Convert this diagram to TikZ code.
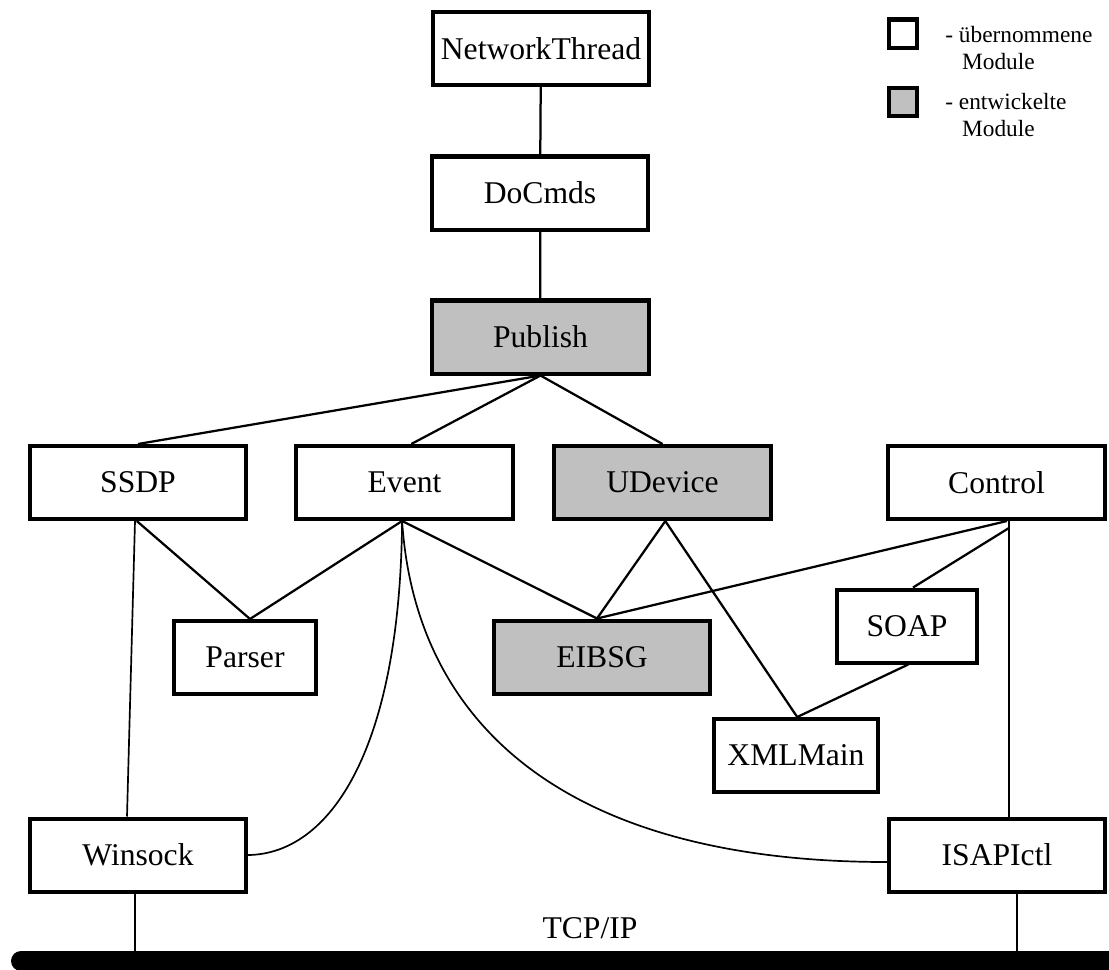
\documentclass[tikz,border=0pt]{standalone}
\usepackage{fontspec}
\setmainfont{Liberation Serif}
\usepackage{tikz}
\usetikzlibrary{calc}
\definecolor{modgray}{RGB}{192,192,192}

\begin{document}
\begin{tikzpicture}[x=0.025cm, y=-0.025cm,
    modul/.style={draw, line width=2.85pt, minimum width=5.4cm, minimum height=1.825cm,
        inner sep=0pt, font=\fontsize{22.5}{27}\selectfont},
    neu/.style={modul, fill=modgray},
    link/.style={line width=1.6pt},
    thin link/.style={line width=1.2pt}]
    \useasboundingbox (0,0) rectangle (1109,969);
    % Module
    \node[modul] (net) at (541,48.5) {NetworkThread};
    \node[modul] (doc) at (540,193) {DoCmds};
    \node[neu] (pub) at (540.5,337) {Publish};
    \node[modul] (ssdp) at (138,482.5) {SSDP};
    \node[modul] (event) at (404.5,482.5) {Event};
    \node[neu] (udev) at (662.5,482.5) {UDevice};
    \node[modul] (ctrl) at (996.5,482.5) {Control};
    \node[modul, minimum width=3.55cm] (parser) at (245,657.5) {Parser};
    \node[neu] (eibsg) at (602,657) {EIBSG};
    \node[modul, minimum width=3.5cm] (soap) at (907,626) {SOAP};
    \node[modul, minimum width=4.1cm] (xml) at (796,755.5) {XMLMain};
    \node[modul] (winsock) at (138,855) {Winsock};
    \node[modul] (isapi) at (997,855) {ISAPIctl};

    % Verbindungen
    \draw[link] (net) -- (doc);
    \draw[link] (doc) -- (pub);
    \draw[link] (pub.south) -- (ssdp.north);
    \draw[link] (pub.south) -- ([xshift=0.17cm]event.north);
    \draw[link] (pub.south) -- (udev.north);
    \draw[thin link] ([xshift=-0.075cm]ssdp.south) -- ([xshift=-0.275cm]winsock.north);
    \draw[link] ([xshift=-0.03cm]ssdp.south) -- ([xshift=0.125cm]parser.north);
    \draw[link] ([xshift=-0.06cm]event.south) -- ([xshift=0.125cm]parser.north);
    \draw[link] ([xshift=-0.06cm]event.south) -- ([xshift=-0.125cm]eibsg.north);
    \draw[link] ([xshift=0.07cm]udev.south) -- ([xshift=-0.125cm]eibsg.north);
    \draw[link] ([xshift=0.07cm]udev.south) -- ([xshift=0.03cm]xml.north);
    \draw[link] ([xshift=0.26cm]ctrl.south) -- ([xshift=-0.125cm]eibsg.north);
    \coordinate (ctv) at ([xshift=0.31cm]ctrl.south);
    \draw[thin link] (ctv) -- (ctv |- isapi.north);
    \draw[link] ([yshift=-0.175cm]ctv) -- ([xshift=0.15cm]soap.north);
    \draw[link] ([xshift=0.03cm]soap.south) -- ([xshift=0.03cm]xml.north);
    \draw[thin link] ([xshift=-0.06cm]event.south) .. controls (400,750) and (330,854) .. (winsock.east);
    \draw[thin link] ([xshift=-0.06cm]event.south) .. controls (415,720) and (560,862) .. ([yshift=-0.175cm]isapi.west);

    % TCP/IP Bus
    \draw[line width=0.5cm, line cap=round] (21,961) coordinate (busl) -- (1140,961) coordinate (busr);
    \node[font=\fontsize{22.5}{27}\selectfont] (tcp) at (590,928) {TCP/IP};
    \coordinate (wsb) at ([xshift=-0.075cm]winsock.south);
    \coordinate (isb) at ([xshift=0.5cm]isapi.south);
    \draw[link] (wsb) -- (wsb |- busl);
    \draw[link] (isb) -- (isb |- busl);

    % Legende
    \node[draw, line width=2.85pt, minimum size=0.7cm, inner sep=0pt] (leg1) at (903,33.5) {};
    \node[draw, line width=2.85pt, minimum size=0.7cm, inner sep=0pt, fill=modgray] (leg2) at (903,102) {};
    \node[anchor=west, align=left, inner sep=0pt, font=\fontsize{16.6}{19.2}\selectfont]
        (leg1txt) at (945,48.5) {- übernommene\\\hspace*{0.42cm}Module};
    \node[anchor=west, align=left, inner sep=0pt, font=\fontsize{16.6}{19.2}\selectfont]
        (leg2txt) at (945,115.5) {- entwickelte\\\hspace*{0.42cm}Module};
\end{tikzpicture}
\end{document}
